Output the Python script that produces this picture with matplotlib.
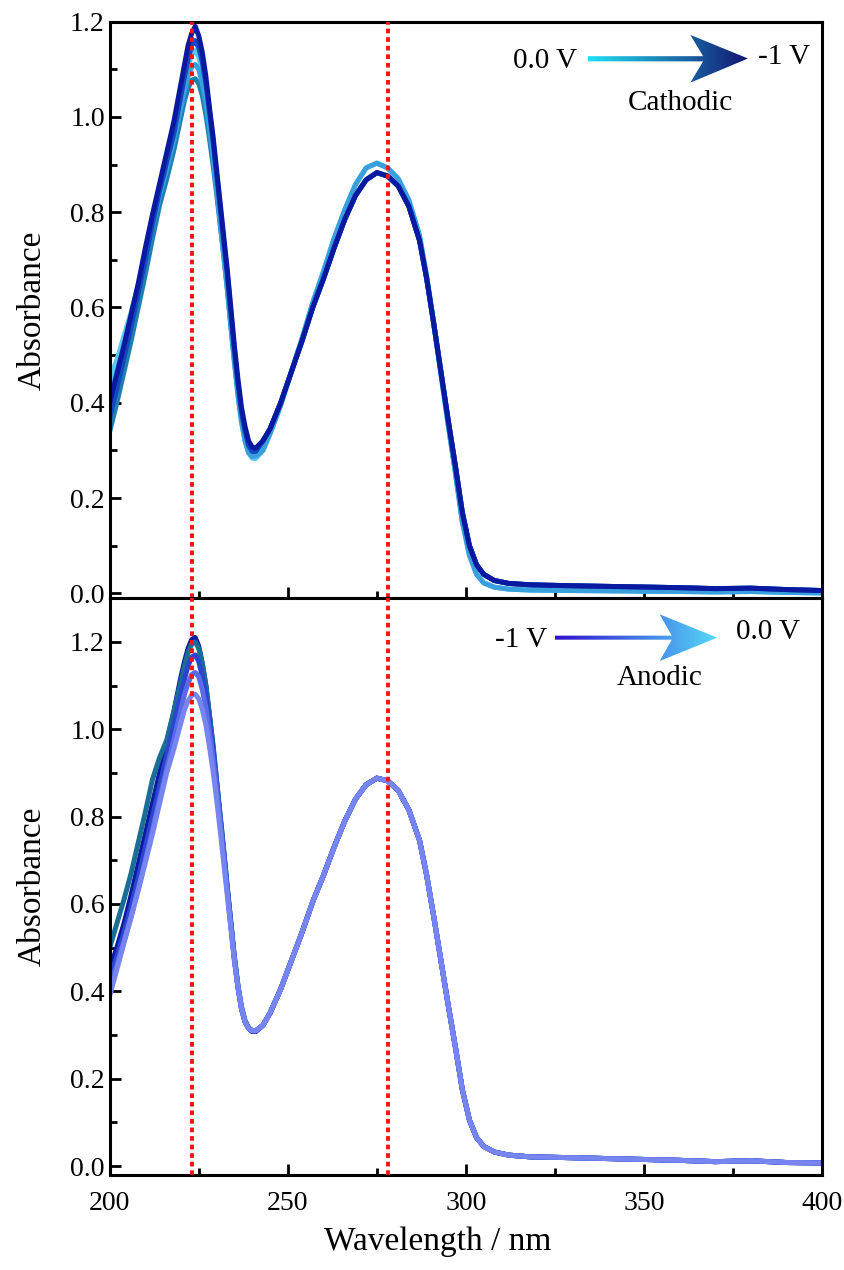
import numpy as np
import matplotlib
matplotlib.use("Agg")
import matplotlib.pyplot as plt
from matplotlib.patches import Polygon
from matplotlib.colors import LinearSegmentedColormap
from matplotlib.ticker import MultipleLocator

plt.rcParams['font.family'] = ['Liberation Serif', 'DejaVu Serif']

# --- data ---
wl_head = [200, 202, 204, 206, 208, 210, 212, 214, 216, 218, 219, 220, 221, 222, 223,
           224, 225, 226, 227, 228, 229, 230, 231, 232, 233, 234, 235, 236, 237, 238,
           239, 240, 241]
wl_tail = [243, 245, 248, 251, 254, 257, 260, 263, 266, 269, 272, 275, 278, 281, 284,
           287, 289, 291, 293, 295, 297, 299, 301, 303, 305, 308, 312, 318, 330, 345,
           360, 370, 380, 390, 400]

# cathodic scan (0.0 V -> -1 V)
cat_head_0 = [0.45, 0.49, 0.54, 0.59, 0.645, 0.71, 0.78, 0.845, 0.90, 0.96, 1.00, 1.035,
              1.07, 1.105, 1.13, 1.14, 1.125, 1.095, 1.05, 0.99, 0.93, 0.86, 0.79, 0.72,
              0.645, 0.565, 0.49, 0.42, 0.36, 0.32, 0.295, 0.284, 0.283]
cat_head_1 = [0.41, 0.465, 0.52, 0.575, 0.635, 0.70, 0.77, 0.835, 0.89, 0.95, 0.985, 1.02,
              1.055, 1.085, 1.105, 1.11, 1.10, 1.07, 1.03, 0.975, 0.915, 0.85, 0.78, 0.71,
              0.64, 0.56, 0.485, 0.415, 0.36, 0.32, 0.295, 0.287, 0.288]
cat_head_2 = [0.34, 0.40, 0.465, 0.53, 0.60, 0.67, 0.745, 0.815, 0.87, 0.93, 0.965, 1.00,
              1.035, 1.06, 1.077, 1.08, 1.07, 1.045, 1.005, 0.955, 0.90, 0.84, 0.775, 0.71,
              0.64, 0.565, 0.49, 0.425, 0.37, 0.33, 0.305, 0.297, 0.297]
cat_head_3 = [0.37, 0.43, 0.495, 0.56, 0.63, 0.70, 0.775, 0.845, 0.905, 0.965, 1.005, 1.045,
              1.085, 1.12, 1.15, 1.16, 1.145, 1.115, 1.07, 1.01, 0.95, 0.88, 0.81, 0.74,
              0.67, 0.59, 0.51, 0.44, 0.38, 0.34, 0.31, 0.298, 0.298]
cat_head_4 = [0.40, 0.46, 0.52, 0.585, 0.65, 0.725, 0.795, 0.86, 0.925, 0.99, 1.03, 1.07,
              1.11, 1.15, 1.175, 1.19, 1.17, 1.135, 1.085, 1.02, 0.96, 0.89, 0.82, 0.75,
              0.68, 0.60, 0.52, 0.45, 0.39, 0.35, 0.32, 0.307, 0.305]
cat_tail_light = [0.30, 0.335, 0.395, 0.465, 0.535, 0.61, 0.675, 0.745, 0.805, 0.858,
                  0.893, 0.903, 0.893, 0.87, 0.825, 0.75, 0.665, 0.565, 0.46, 0.355,
                  0.255, 0.15, 0.08, 0.04, 0.022, 0.013, 0.009, 0.007, 0.006, 0.005,
                  0.004, 0.003, 0.004, 0.002, 0.001]
cat_tail_dark = [0.32, 0.345, 0.40, 0.465, 0.53, 0.60, 0.66, 0.725, 0.785, 0.835, 0.868,
                 0.883, 0.876, 0.855, 0.812, 0.74, 0.66, 0.565, 0.465, 0.365, 0.27, 0.17,
                 0.10, 0.06, 0.04, 0.027, 0.021, 0.018, 0.016, 0.014, 0.012, 0.010,
                 0.011, 0.008, 0.006]

# anodic scan (-1 V -> 0.0 V)
ano_head_0 = [0.45, 0.50, 0.555, 0.62, 0.69, 0.76, 0.83, 0.90, 0.97, 1.04, 1.08, 1.12,
              1.155, 1.185, 1.205, 1.21, 1.19, 1.15, 1.10, 1.03, 0.96, 0.88, 0.80, 0.72,
              0.635, 0.555, 0.475, 0.41, 0.36, 0.33, 0.315, 0.308, 0.308]
ano_head_1 = [0.50, 0.555, 0.61, 0.67, 0.74, 0.81, 0.885, 0.935, 0.975, 1.04, 1.075, 1.11,
              1.145, 1.175, 1.195, 1.20, 1.185, 1.15, 1.10, 1.035, 0.965, 0.885, 0.805,
              0.725, 0.64, 0.56, 0.48, 0.415, 0.365, 0.333, 0.317, 0.31, 0.31]
ano_head_2 = [0.43, 0.48, 0.535, 0.595, 0.66, 0.73, 0.80, 0.87, 0.94, 1.01, 1.045, 1.08,
              1.115, 1.145, 1.165, 1.17, 1.155, 1.12, 1.075, 1.015, 0.95, 0.875, 0.795,
              0.715, 0.635, 0.555, 0.475, 0.41, 0.36, 0.33, 0.315, 0.308, 0.308]
ano_head_3 = [0.41, 0.46, 0.515, 0.57, 0.635, 0.70, 0.77, 0.84, 0.91, 0.975, 1.01, 1.045,
              1.08, 1.105, 1.125, 1.13, 1.12, 1.09, 1.05, 0.995, 0.935, 0.865, 0.79, 0.71,
              0.63, 0.55, 0.473, 0.41, 0.36, 0.33, 0.315, 0.31, 0.31]
ano_head_4 = [0.39, 0.45, 0.51, 0.57, 0.63, 0.695, 0.76, 0.83, 0.90, 0.955, 0.985, 1.015,
              1.045, 1.065, 1.078, 1.08, 1.07, 1.045, 1.01, 0.96, 0.905, 0.84, 0.77, 0.695,
              0.62, 0.545, 0.47, 0.41, 0.36, 0.33, 0.315, 0.31, 0.31]
ano_tail = [0.322, 0.35, 0.405, 0.47, 0.535, 0.605, 0.665, 0.73, 0.79, 0.84, 0.873, 0.888,
            0.882, 0.86, 0.815, 0.745, 0.665, 0.57, 0.47, 0.37, 0.275, 0.175, 0.105, 0.065,
            0.045, 0.032, 0.025, 0.021, 0.019, 0.016, 0.013, 0.010, 0.012, 0.008, 0.007]

peak_lines = [223, 278]

cat_curves = [(cat_head_2, cat_tail_dark, '#1E7FB0'),
              (cat_head_0, cat_tail_light, '#5BC8F2'),
              (cat_head_1, cat_tail_light, '#3AA0DD'),
              (cat_head_3, cat_tail_dark, '#1448C0'),
              (cat_head_4, cat_tail_dark, '#0A1AA0')]
ano_curves = [(ano_head_0, ano_tail, '#0B1A9E'),
              (ano_head_1, ano_tail, '#1A6E96'),
              (ano_head_2, ano_tail, '#2B45D0'),
              (ano_head_3, ano_tail, '#5A6AE8'),
              (ano_head_4, ano_tail, '#7785F0')]

wl = np.array(wl_head + wl_tail)


def gradient_arrow(ax, pts, c_start, c_end):
    # arrow shape filled with a left-to-right colour gradient
    poly = Polygon(pts, closed=True, transform=ax.transAxes,
                   facecolor='none', edgecolor='none')
    ax.add_patch(poly)
    xs = [p[0] for p in pts]
    ys = [p[1] for p in pts]
    cmap = LinearSegmentedColormap.from_list('g', [c_start, c_end])
    grad = np.linspace(0, 1, 256).reshape(1, -1)
    im = ax.imshow(grad, cmap=cmap, aspect='auto', transform=ax.transAxes,
                   extent=(min(xs), max(xs), min(ys), max(ys)), zorder=5)
    im.set_clip_path(poly)


def style_axes(ax):
    ax.xaxis.set_major_locator(MultipleLocator(50))
    ax.xaxis.set_minor_locator(MultipleLocator(25))
    ax.yaxis.set_major_locator(MultipleLocator(0.2))
    ax.yaxis.set_minor_locator(MultipleLocator(0.1))
    ax.yaxis.set_major_formatter(plt.FuncFormatter(lambda v, p: f'{v:.1f}'))
    ax.tick_params(which='both', direction='in', top=False, right=False,
                   width=2, labelsize=20)
    ax.tick_params(which='major', length=8)
    ax.tick_params(which='minor', length=5)
    ax.tick_params(axis='x', pad=12)
    for s in ax.spines.values():
        s.set_linewidth(2.2)
    ax.set_ylabel('Absorbance', fontsize=24, labelpad=16)
    for x in peak_lines:
        ax.axvline(x, color='#FF1010', lw=2.8, ls=(0, (1.2, 1.0)), zorder=4)


fig = plt.figure(figsize=(8.44, 12.7), dpi=100)
ax1 = fig.add_axes([0.130, 0.529, 0.844, 0.454])
ax2 = fig.add_axes([0.130, 0.075, 0.844, 0.454], sharex=ax1)

for head, tail, col in cat_curves:
    ax1.plot(wl, head + tail, color=col, lw=3.6, solid_joinstyle='round',
             solid_capstyle='round')
for head, tail, col in ano_curves:
    ax2.plot(wl, head + tail, color=col, lw=3.6, solid_joinstyle='round',
             solid_capstyle='round')

style_axes(ax1)
style_axes(ax2)
plt.setp(ax1.get_xticklabels(), visible=False)
ax2.set_xlabel('Wavelength / nm', fontsize=24)
ax2.xaxis.set_label_coords(0.46, -0.09)

# cathodic arrow
gradient_arrow(ax1, [(0.671, 0.940), (0.833, 0.940), (0.815, 0.977), (0.896, 0.936),
                     (0.815, 0.894), (0.833, 0.931), (0.671, 0.931)],
               '#22E0F5', '#141470')
ax1.text(0.611, 0.931, '0.0 V', transform=ax1.transAxes, fontsize=21,
         ha='center', va='center')
ax1.text(0.947, 0.939, '-1 V', transform=ax1.transAxes, fontsize=21,
         ha='center', va='center')
ax1.text(0.801, 0.859, 'Cathodic', transform=ax1.transAxes, fontsize=21,
         ha='center', va='center')

# anodic arrow
gradient_arrow(ax2, [(0.625, 0.935), (0.789, 0.935), (0.772, 0.972), (0.853, 0.9315),
                     (0.772, 0.891), (0.789, 0.928), (0.625, 0.928)],
               '#3010D0', '#55DAF8')
ax2.text(0.577, 0.927, '-1 V', transform=ax2.transAxes, fontsize=21,
         ha='center', va='center')
ax2.text(0.924, 0.941, '0.0 V', transform=ax2.transAxes, fontsize=21,
         ha='center', va='center')
ax2.text(0.7725, 0.861, 'Anodic', transform=ax2.transAxes, fontsize=21,
         ha='center', va='center')

ax1.set_xlim(200, 400)
ax1.set_ylim(-0.01, 1.2)
ax2.set_ylim(-0.02, 1.3)

fig.savefig('out.png', dpi=100)
